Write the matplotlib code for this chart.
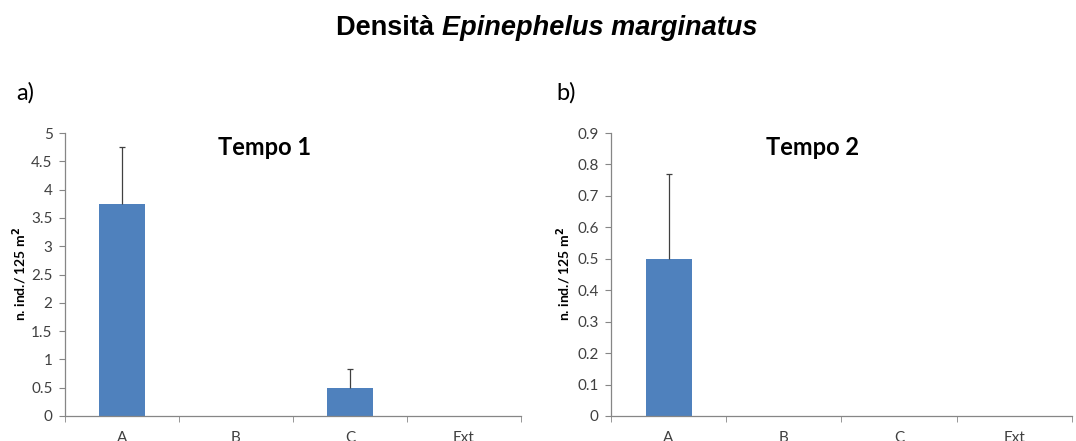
import matplotlib
matplotlib.use("Agg")
import matplotlib.pyplot as plt
import numpy as np

# --- Data ---
categories = ["A", "B", "C", "Ext"]
tempo1_mean = [3.75, 0, 0.5, 0]
tempo1_err = [1.0, 0, 0.33, 0]
tempo2_mean = [0.5, 0, 0, 0]
tempo2_err = [0.27, 0, 0, 0]

bar_color = "#4F81BD"
axis_color = "#868686"
text_color = "#404040"

plt.rcParams["font.family"] = ["Lato", "DejaVu Sans"]

fig = plt.figure(figsize=(10.76, 4.41), dpi=100)

# main title: regular part + italic species name
t1 = fig.text(0.0, 0.937, "Densità ", ha="left", va="center", fontsize=19.5,
              fontweight="bold", family="Liberation Sans")
t2 = fig.text(0.0, 0.937, "Epinephelus marginatus", ha="left", va="center", fontsize=19.5,
              fontweight="bold", style="italic", family="Liberation Sans")
fig.canvas.draw()
r = fig.canvas.get_renderer()
w1 = t1.get_window_extent(r).width / fig.bbox.width
w2 = t2.get_window_extent(r).width / fig.bbox.width
x0 = 0.508 - (w1 + w2) / 2
t1.set_x(x0)
t2.set_x(x0 + w1)


def draw_panel(rect, means, errs, ymax, ystep, title, title_x, letter, letter_x, ylab_x):
    ax = fig.add_axes(rect)
    x = np.arange(len(categories))
    ax.bar(x, means, width=0.4, color=bar_color, zorder=2)
    has = np.array([e > 0 for e in errs])
    eb = ax.errorbar(x[has], np.array(means)[has],
                     yerr=[np.zeros(has.sum()), np.array(errs)[has]],
                     fmt="none", ecolor="#404040", elinewidth=0.9, capsize=2.2,
                     capthick=0.9, zorder=3)
    eb[1][0].set_visible(False)  # hide the lower cap
    ax.set_xlim(-0.5, len(categories) - 0.5)
    ax.set_ylim(0, ymax)
    ax.set_yticks(np.round(np.arange(0, ymax + ystep / 2, ystep), 2))
    ax.yaxis.set_major_formatter(plt.FuncFormatter(lambda v, p: f"{v:g}"))
    ax.set_xticks(x)
    ax.set_xticklabels(categories)
    ax.set_xticks(np.arange(-0.5, len(categories), 1), minor=True)
    ax.tick_params(axis="x", which="major", length=0, pad=10.5, labelsize=11, colors=text_color)
    ax.tick_params(axis="x", which="minor", length=4, direction="out", color=axis_color)
    ax.tick_params(axis="y", length=4, direction="out", color=axis_color,
                   labelsize=11, colors=text_color, pad=5)
    for s in ["top", "right"]:
        ax.spines[s].set_visible(False)
    for s in ["left", "bottom"]:
        ax.spines[s].set_color(axis_color)
        ax.spines[s].set_linewidth(0.9)
    ax.set_ylabel("n. ind./ 125 m$^\\mathbf{2}$", fontsize=10, fontweight="bold", color="black")
    ax.yaxis.set_label_coords(ylab_x, 0.5)
    fig.text(title_x, 0.665, title, ha="center", va="center", fontsize=17, fontweight="bold")
    fig.text(letter_x, 0.789, letter, ha="left", va="center", fontsize=17)
    return ax


draw_panel([0.0604, 0.0567, 0.4238, 0.6417], tempo1_mean, tempo1_err, 5, 0.5,
           "Tempo 1", 0.2455, "a)", 0.015, -0.08)
draw_panel([0.5678, 0.0567, 0.4284, 0.6417], tempo2_mean, tempo2_err, 0.9, 0.1,
           "Tempo 2", 0.755, "b)", 0.517, -0.083)

fig.savefig("out.png", dpi=100)
